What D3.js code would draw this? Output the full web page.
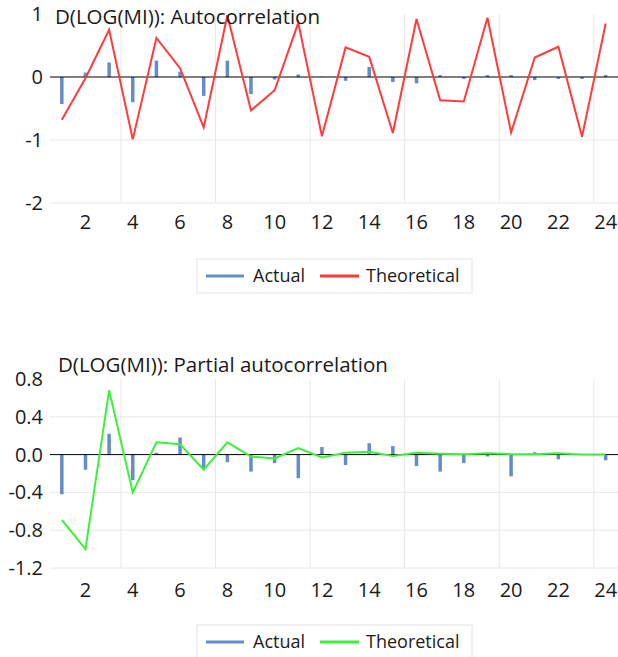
<!DOCTYPE html>
<html>
<head>
<meta charset="utf-8">
<script src="https://cdn.jsdelivr.net/npm/d3@7"></script>
<style>
body { margin: 0; background: #fff; }
text { font-family: "Open Sans", "Liberation Sans", sans-serif; fill: #1a1a1a; }
</style>
</head>
<body>
<svg id="chart" width="618" height="657"></svg>
<script>
// 滞后阶数
var lags = d3.range(1, 25)
var xTickLabels = [2, 4, 6, 8, 10, 12, 14, 16, 18, 20, 22, 24]
// 竖网格线在这些阶数之后
var gridAfter = [3, 7, 11, 15, 19, 23]

// 自相关
var acfActual = [-0.43, 0.07, 0.23, -0.40, 0.26, 0.085, -0.30, 0.26, -0.27, -0.04, 0.04, 0.005,
  -0.06, 0.16, -0.08, -0.10, 0.03, -0.03, 0.03, 0.03, -0.05, -0.03, -0.03, 0.03]
var acfTheory = [-0.68, -0.02, 0.75, -0.99, 0.62, 0.14, -0.80, 0.98, -0.53, -0.21, 0.86, -0.94,
  0.47, 0.32, -0.89, 0.92, -0.37, -0.39, 0.94, -0.88, 0.31, 0.48, -0.95, 0.85]
var acfTicks = [1, 0, -1, -2]

// 偏自相关
var pacfActual = [-0.42, -0.16, 0.22, -0.27, 0.02, 0.18, -0.14, -0.08, -0.18, -0.09, -0.25, 0.08,
  -0.11, 0.12, 0.09, -0.12, -0.18, -0.09, -0.02, -0.23, 0.025, -0.05, 0, -0.06]
var pacfTheory = [-0.69, -1.0, 0.68, -0.40, 0.13, 0.11, -0.16, 0.13, -0.02, -0.04, 0.07, -0.03,
  0.02, 0.03, -0.015, 0.02, 0.01, 0.005, 0.015, 0.005, 0.005, 0.015, 0, 0]
var pacfTicks = [0.8, 0.4, 0.0, -0.4, -0.8, -1.2]

var svg = d3.select('#chart')
var barColor = '#658cc9'

// 用普通减号
function hyphen(f) {
  return function(d) { return f(d).replace('\u2212', '-') }
}

function drawPanel(opt) {
  var x = d3.scaleBand().domain(lags).range([50, 617.5])
  var y = d3.scaleLinear().domain(opt.domain).range([opt.bottom, opt.top])
  var g = svg.append('g')

  // 网格线
  g.selectAll('.hgrid')
    .data(opt.ticks.filter(function(t) { return t !== 0 && t !== opt.domain[1] }))
    .enter().append('line')
    .attr('x1', 50).attr('x2', 618)
    .attr('y1', function(d) { return y(d) }).attr('y2', function(d) { return y(d) })
    .attr('stroke', '#e8e8e8').attr('stroke-width', 1)
  g.selectAll('.vgrid')
    .data(gridAfter)
    .enter().append('line')
    .attr('x1', function(d) { return x(d) + x.bandwidth() })
    .attr('x2', function(d) { return x(d) + x.bandwidth() })
    .attr('y1', opt.top).attr('y2', opt.bottom)
    .attr('stroke', '#e8e8e8').attr('stroke-width', 1)

  // 柱
  g.selectAll('.bar')
    .data(opt.actual)
    .enter().append('rect')
    .attr('x', function(d, i) { return x(lags[i]) + x.bandwidth() / 2 - 1.75 })
    .attr('width', 3.5)
    .attr('y', function(d) { return y(Math.max(0, d)) })
    .attr('height', function(d) { return Math.abs(y(d) - y(0)) })
    .attr('fill', barColor)

  // 零线
  g.append('line')
    .attr('x1', 50).attr('x2', 618)
    .attr('y1', y(0)).attr('y2', y(0))
    .attr('stroke', '#000').attr('stroke-width', 1)

  // 理论线
  var line = d3.line()
    .x(function(d, i) { return x(lags[i]) + x.bandwidth() / 2 })
    .y(function(d) { return y(d) })
  g.append('path')
    .datum(opt.theory)
    .attr('d', line)
    .attr('fill', 'none')
    .attr('stroke', opt.lineColor)
    .attr('stroke-width', 2)

  // 坐标轴
  var yAxis = d3.axisLeft(y).tickValues(opt.ticks).tickSize(0).tickPadding(0)
    .tickFormat(hyphen(opt.fmt))
  var ya = g.append('g').attr('transform', 'translate(43,0)').call(yAxis)
  ya.select('.domain').remove()
  ya.selectAll('text').style('font-size', '20px').attr('fill', '#1a1a1a')

  var xAxis = d3.axisBottom(x).tickValues(xTickLabels).tickSize(0).tickPadding(0)
  var xa = g.append('g').attr('transform', 'translate(0,' + (opt.bottom + opt.xLabelGap) + ')').call(xAxis)
  xa.select('.domain').remove()
  xa.selectAll('text').style('font-size', '20px').attr('fill', '#1a1a1a').attr('dy', '0.35em')

  // 标题
  g.append('text')
    .attr('x', opt.titleX).attr('y', opt.titleY)
    .style('font-size', '20.5px')
    .text(opt.title)

  // 图例
  var lg = g.append('g')
  lg.append('rect')
    .attr('x', 197).attr('y', opt.legendY - 17)
    .attr('width', 275).attr('height', 34)
    .attr('fill', '#fff').attr('stroke', '#ececec').attr('stroke-width', 1.5)
  lg.append('line')
    .attr('x1', 206).attr('x2', 244).attr('y1', opt.legendY).attr('y2', opt.legendY)
    .attr('stroke', barColor).attr('stroke-width', 3)
  lg.append('text')
    .attr('x', 253).attr('y', opt.legendY).attr('dy', '0.35em')
    .style('font-size', '18px').text('Actual')
  lg.append('line')
    .attr('x1', 320).attr('x2', 359).attr('y1', opt.legendY).attr('y2', opt.legendY)
    .attr('stroke', opt.lineColor).attr('stroke-width', 3)
  lg.append('text')
    .attr('x', 366).attr('y', opt.legendY).attr('dy', '0.35em')
    .style('font-size', '18px').text('Theoretical')
}

drawPanel({
  title: 'D(LOG(MI)): Autocorrelation',
  titleX: 55, titleY: 24,
  actual: acfActual, theory: acfTheory,
  domain: [-2, 1], ticks: acfTicks,
  fmt: d3.format('d'),
  top: 14, bottom: 203, xLabelGap: 19,
  lineColor: '#ff3b3b',
  legendY: 276
})

drawPanel({
  title: 'D(LOG(MI)): Partial autocorrelation',
  titleX: 58, titleY: 372,
  actual: pacfActual, theory: pacfTheory,
  domain: [-1.2, 0.8], ticks: pacfTicks,
  fmt: d3.format('.1f'),
  top: 379, bottom: 568, xLabelGap: 22,
  lineColor: '#3ef03e',
  legendY: 642
})
</script>
</body>
</html>
